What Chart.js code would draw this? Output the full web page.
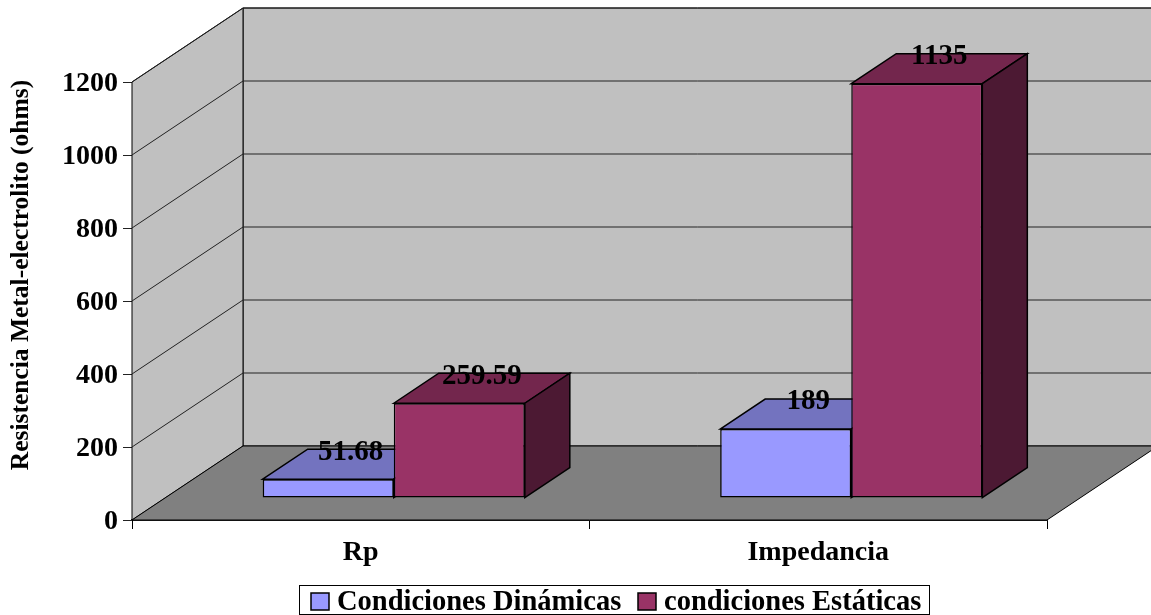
<!DOCTYPE html>
<html>
<head>
<meta charset="utf-8">
<style>
  body { margin: 0; background: #fff; }
  canvas { display: block; }
</style>
<script src="https://cdn.jsdelivr.net/npm/chart.js@4"></script>
</head>
<body>
<canvas id="myChart" width="1151" height="615"></canvas>
<script>
const categories = ['Rp', 'Impedancia'];
const dinamicas = [51.68, 189];
const estaticas = [259.59, 1135];
const seriesNames = ['Condiciones Dinámicas', 'condiciones Estáticas'];
const seriesColors = ['#9999FF', '#993366'];
const yTicks = [0, 200, 400, 600, 800, 1000, 1200];
const yTitle = 'Resistencia Metal-electrolito (ohms)';

const serif = '"Liberation Serif", "Times New Roman", serif';

// depth of the fake 3d box, in pixels
const wallDx = 111, wallDy = -74;
const barDx = 33, barDy = -22;
const depthDx = 45, depthDy = -30;

const topColors = ['#7373BF', '#73264D'];
const sideColors = ['#4C4C80', '#4C1933'];

function poly(ctx, pts, fill) {
  ctx.beginPath();
  pts.forEach((p, i) => i ? ctx.lineTo(p[0], p[1]) : ctx.moveTo(p[0], p[1]));
  ctx.closePath();
  if (fill) { ctx.fillStyle = fill; ctx.fill(); }
  ctx.stroke();
}

const box3d = {
  id: 'box3d',
  beforeDatasetsDraw(chart) {
    const ctx = chart.ctx;
    const a = chart.chartArea;
    const y = chart.scales.y;
    const bottom = y.getPixelForValue(0);
    const top = y.getPixelForValue(1200);

    ctx.save();
    ctx.strokeStyle = '#000';
    ctx.lineWidth = 1;

    // walls and floor
    poly(ctx, [[a.left + wallDx, bottom + wallDy], [a.right + wallDx, bottom + wallDy], [a.right + wallDx, top + wallDy], [a.left + wallDx, top + wallDy]], '#C0C0C0');
    poly(ctx, [[a.left, bottom], [a.left + wallDx, bottom + wallDy], [a.left + wallDx, top + wallDy], [a.left, top]], '#C0C0C0');
    poly(ctx, [[a.left, bottom], [a.right, bottom], [a.right + wallDx, bottom + wallDy], [a.left + wallDx, bottom + wallDy]], '#808080');

    // grid lines, side wall then back wall
    ctx.strokeStyle = '#222';
    yTicks.forEach(v => {
      if (v === 0) return;
      const py = y.getPixelForValue(v);
      ctx.beginPath();
      ctx.moveTo(a.left, py);
      ctx.lineTo(a.left + wallDx, py + wallDy);
      ctx.lineTo(a.right + wallDx, py + wallDy);
      ctx.stroke();
    });

    // bars, first series first so the second one covers it
    ctx.strokeStyle = '#000';
    ctx.lineWidth = 1.5;
    [0, 1].forEach(i => {
      const meta = chart.getDatasetMeta(i);
      ctx.save();
      ctx.translate(barDx, barDy);
      meta.data.forEach(bar => {
        const l = bar.x - bar.width / 2, r = bar.x + bar.width / 2;
        poly(ctx, [[l, bar.y], [l + depthDx, bar.y + depthDy], [r + depthDx, bar.y + depthDy], [r, bar.y]], topColors[i]);
        poly(ctx, [[r, bar.y], [r + depthDx, bar.y + depthDy], [r + depthDx, bar.base + depthDy], [r, bar.base]], sideColors[i]);
      });
      meta.controller.draw();
      ctx.restore();
    });

    // value labels
    ctx.fillStyle = '#000';
    ctx.font = 'bold 29px ' + serif;
    ctx.textAlign = 'center';
    ctx.textBaseline = 'middle';
    [0, 1].forEach(i => {
      chart.getDatasetMeta(i).data.forEach((bar, j) => {
        const v = chart.data.datasets[i].data[j];
        ctx.fillText(String(v), bar.x + barDx + depthDx / 2, bar.y + barDy + depthDy + 3);
      });
    });
    ctx.restore();
    return false;
  },
  afterDraw(chart) {
    const ctx = chart.ctx;
    ctx.save();
    ctx.fillStyle = '#000';

    // axis title
    ctx.save();
    ctx.translate(21, 275);
    ctx.rotate(-Math.PI / 2);
    ctx.font = 'bold 25.5px ' + serif;
    ctx.textAlign = 'center';
    ctx.textBaseline = 'middle';
    ctx.fillText(yTitle, 0, 0);
    ctx.restore();

    // legend frame, swatches and names
    ctx.strokeStyle = '#000';
    ctx.lineWidth = 1;
    ctx.strokeRect(299.5, 585.5, 630, 29);
    ctx.font = 'bold 28.5px ' + serif;
    ctx.textBaseline = 'middle';
    ctx.textAlign = 'left';
    const swatchX = [311, 638];
    seriesNames.forEach((name, i) => {
      ctx.fillStyle = seriesColors[i];
      ctx.lineWidth = 1.5;
      ctx.fillRect(swatchX[i], 593, 18, 17);
      ctx.strokeRect(swatchX[i], 593, 18, 17);
      ctx.fillStyle = '#000';
      ctx.fillText(name, swatchX[i] + 26, 603);
    });
    ctx.restore();
  }
};

new Chart(document.getElementById('myChart'), {
  type: 'bar',
  data: {
    labels: categories,
    datasets: [
      {
        label: seriesNames[0],
        data: dinamicas,
        backgroundColor: seriesColors[0],
        borderColor: '#000',
        borderWidth: 1.5,
        borderSkipped: false,
        categoryPercentage: 0.573,
        barPercentage: 1
      },
      {
        label: seriesNames[1],
        data: estaticas,
        backgroundColor: seriesColors[1],
        borderColor: '#000',
        borderWidth: 1.5,
        borderSkipped: false,
        categoryPercentage: 0.573,
        barPercentage: 1
      }
    ]
  },
  options: {
    responsive: false,
    animation: false,
    layout: { padding: { top: 82, right: 104, bottom: 46, left: 0 } },
    plugins: {
      tooltip: { enabled: false },
      legend: { display: false }
    },
    scales: {
      x: {
        grid: { drawOnChartArea: false, color: '#000', tickLength: 9 },
        border: { color: '#222', width: 2 },
        ticks: {
          color: '#000',
          padding: 7,
          font: { family: serif, size: 28, weight: 'bold' }
        },
        afterFit(scale) { scale.height = 49; }
      },
      y: {
        min: 0,
        max: 1200,
        afterBuildTicks(scale) { scale.ticks = yTicks.map(v => ({ value: v })); },
        grid: { drawOnChartArea: false, color: '#222', tickLength: 9 },
        border: { color: '#000' },
        ticks: {
          color: '#000',
          padding: 5,
          labelOffset: 2,
          font: { family: serif, size: 28, weight: 'bold' },
          callback: v => String(v)
        },
        afterFit(scale) { scale.width = 132; }
      }
    }
  },
  plugins: [box3d]
});
</script>
</body>
</html>
